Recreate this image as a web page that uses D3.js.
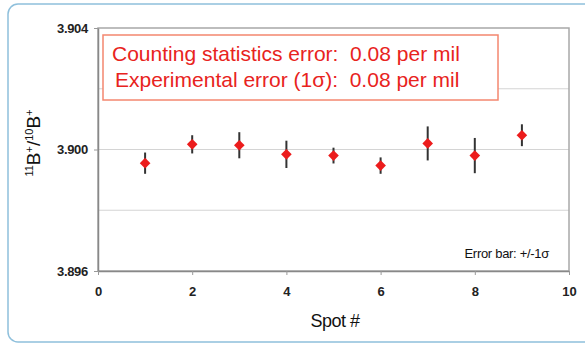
<!DOCTYPE html>
<html>
<head>
<meta charset="utf-8">
<script src="https://cdn.jsdelivr.net/npm/d3@7"></script>
<style>
  body { margin: 0; background: #fff; }
  text { font-family: "Liberation Sans", Arial, sans-serif; }
</style>
</head>
<body>
<div class="chart"></div>
<script>
// spot number, isotope ratio, 1 sigma
const spots = [1, 2, 3, 4, 5, 6, 7, 8, 9];
const ratios = [3.89955, 3.90017, 3.90014, 3.89984, 3.8998, 3.89947, 3.9002, 3.8998, 3.90047];
const sigmas = [0.00035, 0.0003, 0.00043, 0.00045, 0.00026, 0.00027, 0.00056, 0.00058, 0.00036];
const yTicks = [3.896, 3.898, 3.900, 3.902, 3.904];
const yLabelTicks = [3.896, 3.900, 3.904];
const xTicks = [0, 2, 4, 6, 8, 10];
const noteLines = ["Counting statistics error:  0.08 per mil", "Experimental error (1\u03c3):  0.08 per mil"];

const width = 585, height = 346;
const margin = {top: 28, right: 16, bottom: 75, left: 98};

const svg = d3.select(".chart").append("svg")
    .attr("width", width)
    .attr("height", height);

// outer frame (rounded, runs off the right edge)
svg.append("rect")
    .attr("x", 8).attr("y", 4)
    .attr("width", 600).attr("height", 338)
    .attr("rx", 10)
    .attr("fill", "none")
    .attr("stroke", "#8fc0dc")
    .attr("stroke-width", 1.5);

const x = d3.scaleLinear().domain([0, 10]).range([margin.left, width - margin.right]);
const y = d3.scaleLinear().domain([3.896, 3.904]).range([height - margin.bottom, margin.top]);

const data = spots.map((s, i) => ({spot: s, value: ratios[i], err: sigmas[i]}));

// gridlines
svg.append("g")
    .selectAll("line")
    .data(yTicks.slice(1, -1))
    .join("line")
    .attr("x1", x(0)).attr("x2", x(10))
    .attr("y1", d => y(d)).attr("y2", d => y(d))
    .attr("stroke", "#d4d4d4")
    .attr("stroke-width", 1.2);

// plot area border
svg.append("rect")
    .attr("x", x(0)).attr("y", y(3.904))
    .attr("width", x(10) - x(0)).attr("height", y(3.896) - y(3.904))
    .attr("fill", "none")
    .attr("stroke", "#a8a8a8")
    .attr("stroke-width", 1.5);

// axes
const yAxis = svg.append("g")
    .attr("transform", `translate(${x(0)},0)`)
    .call(d3.axisLeft(y).tickValues(yLabelTicks).tickFormat(d3.format(".3f")).tickSizeOuter(0).tickSizeInner(4).tickPadding(6));
yAxis.select(".domain").attr("stroke", "#888").attr("stroke-width", 1.5);
yAxis.selectAll(".tick line").attr("stroke", "#999");
yAxis.selectAll("text").attr("font-size", 13).attr("font-weight", "bold").attr("fill", "#222")
    .attr("letter-spacing", -0.3);

const xAxis = svg.append("g")
    .attr("transform", `translate(0,${y(3.896)})`)
    .call(d3.axisBottom(x).tickValues(xTicks).tickFormat(d3.format("d")).tickSizeOuter(0).tickSizeInner(4).tickPadding(12));
xAxis.select(".domain").attr("stroke", "#888").attr("stroke-width", 1.5);
xAxis.selectAll(".tick line").attr("stroke", "#999");
xAxis.selectAll("text").attr("font-size", 13).attr("font-weight", "bold").attr("fill", "#222");

// axis titles
svg.append("text")
    .attr("x", 335)
    .attr("y", 327)
    .attr("text-anchor", "middle")
    .attr("font-size", 18)
    .attr("letter-spacing", -0.5)
    .attr("fill", "#111")
    .text("Spot #");

const yTitle = svg.append("text")
    .attr("transform", `translate(40,143) rotate(-90)`)
    .attr("text-anchor", "middle")
    .attr("font-size", 19)
    .attr("fill", "#111");
yTitle.append("tspan").attr("font-size", 11).attr("dy", -7).text("11");
yTitle.append("tspan").attr("dy", 7).text("B");
yTitle.append("tspan").attr("font-size", 11).attr("dy", -7).text("+");
yTitle.append("tspan").attr("dy", 7).text("/");
yTitle.append("tspan").attr("font-size", 11).attr("dy", -7).text("10");
yTitle.append("tspan").attr("dy", 7).text("B");
yTitle.append("tspan").attr("font-size", 11).attr("dy", -7).text("+");

// error bars
svg.append("g")
    .selectAll("line")
    .data(data)
    .join("line")
    .attr("x1", d => x(d.spot)).attr("x2", d => x(d.spot))
    .attr("y1", d => y(d.value - d.err)).attr("y2", d => y(d.value + d.err))
    .attr("stroke", "#333")
    .attr("stroke-width", 2);

// points
svg.append("g")
    .selectAll("path")
    .data(data)
    .join("path")
    .attr("transform", d => `translate(${x(d.spot)},${y(d.value)})`)
    .attr("d", d3.symbol().type(d3.symbolDiamond2).size(72))
    .attr("fill", "#ec1c1c");

// note box
svg.append("rect")
    .attr("x", 103).attr("y", 35)
    .attr("width", 395).attr("height", 65)
    .attr("fill", "#fff")
    .attr("stroke", "#f4876f")
    .attr("stroke-width", 1.5);

svg.append("g")
    .selectAll("text")
    .data(noteLines)
    .join("text")
    .attr("x", (d, i) => i ? 115 : 112)
    .attr("y", (d, i) => 61 + i * 26)
    .attr("font-size", 21)
    .attr("fill", "#e8231d")
    .style("white-space", "pre")
    .text(d => d);

svg.append("text")
    .attr("x", 549)
    .attr("y", 258)
    .attr("text-anchor", "end")
    .attr("font-size", 13)
    .attr("letter-spacing", -0.3)
    .attr("fill", "#111")
    .text("Error bar: +/-1\u03c3");
</script>
</body>
</html>
